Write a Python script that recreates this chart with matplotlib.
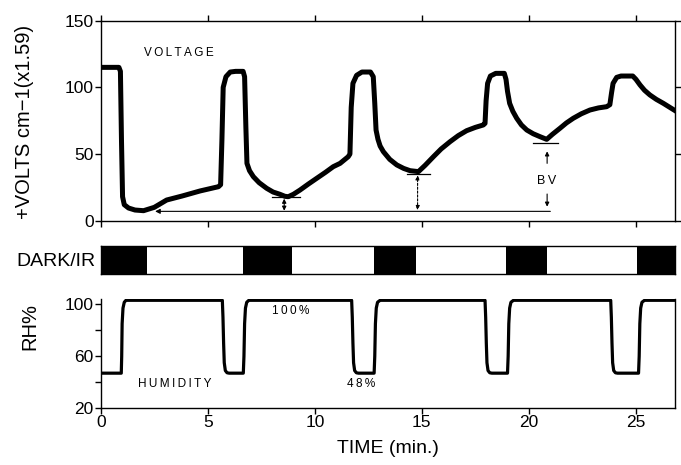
import matplotlib
matplotlib.use("Agg")
import matplotlib.pyplot as plt

plt.rcParams['font.family'] = ['Liberation Sans', 'DejaVu Sans']

# voltage trace (min, volts)
v_time = [0, 0.85, 0.92, 0.97, 1.02, 1.1, 1.3, 1.6, 2.0, 2.5, 3.08, 3.8, 4.64, 5.5,
          5.6, 5.66, 5.72, 5.85, 6.05, 6.3, 6.65, 6.72, 6.78, 6.83,
          6.95, 7.13, 7.4, 7.75, 8.05, 8.37, 8.6, 8.76,
          9.0, 9.31, 9.7, 10.09, 10.5, 10.86, 11.18, 11.56,
          11.64, 11.7, 11.78, 11.95, 12.2, 12.6, 12.73, 12.8, 12.86,
          12.95, 13.05, 13.2, 13.5, 13.83, 14.15, 14.45, 14.84,
          15.15, 15.54, 15.9, 16.32, 16.7, 17.09, 17.5, 17.87,
          17.95, 18.0, 18.07, 18.2, 18.45, 18.85, 18.93, 19.0, 19.1, 19.25, 19.43,
          19.65, 19.9, 20.2, 20.52, 20.83,
          21.1, 21.45, 21.75, 22.07, 22.45, 22.85, 23.25, 23.63,
          23.78, 23.86, 23.93, 24.1, 24.3, 24.85,
          25.0, 25.19, 25.4, 25.65, 25.95, 26.28, 26.6, 26.9]
v_vals = [115, 115, 112, 60, 18, 12, 9.5, 8, 7.5, 10, 15.5, 18.5, 22.3, 25.5,
          27, 60, 100, 108, 111.5, 112, 112, 108, 70, 43,
          37.5, 33, 28.5, 24.3, 21.5, 19.8, 18.3, 18,
          19.8, 23, 27.5, 31.8, 36.3, 40.5, 43, 48,
          50, 85, 103, 109, 111.5, 111.5, 108, 88, 68,
          61, 56, 51.8, 46, 41.8, 39.2, 37.5, 36.8,
          41.5, 48, 53.8, 59.3, 63.8, 67.5, 70, 71.8,
          73, 90, 103, 108.5, 110.5, 110.5, 106, 97, 88, 82, 76.8,
          71.8, 68, 65.2, 63, 61,
          64.8, 69.3, 73.3, 76.8, 80.2, 83, 84.6, 85.5,
          87, 96, 103, 107.5, 108.5, 108.5,
          106, 101.8, 97.8, 94.3, 91, 88, 84.8, 81.8]

# relative humidity trace (min, %)
rh_time = [0, 0.96, 0.98, 1.0, 1.04, 1.1, 1.18,
           5.68, 5.71, 5.74, 5.77, 5.82, 5.9, 6.0,
           6.66, 6.69, 6.72, 6.76, 6.82, 6.92,
           11.72, 11.75, 11.78, 11.81, 11.86, 11.94, 12.04,
           12.77, 12.8, 12.83, 12.87, 12.93, 13.05,
           17.95, 17.98, 18.01, 18.04, 18.09, 18.17, 18.27,
           19.0, 19.03, 19.06, 19.1, 19.16, 19.28,
           23.82, 23.85, 23.88, 23.91, 23.96, 24.04, 24.14,
           25.12, 25.15, 25.18, 25.22, 25.28, 25.4, 26.9]
rh_vals = [47, 47, 60, 85, 97, 101.5, 103,
           103, 90, 70, 55, 49, 47.3, 47,
           47, 60, 85, 97, 101.5, 103,
           103, 90, 70, 55, 49, 47.3, 47,
           47, 60, 85, 97, 101.5, 103,
           103, 90, 70, 55, 49, 47.3, 47,
           47, 60, 85, 97, 101.5, 103,
           103, 90, 70, 55, 49, 47.3, 47,
           47, 60, 85, 97, 101.5, 103, 103]

# dark / IR periods (start, duration)
dark_start = [0, 6.63, 12.77, 18.93, 25.06]
dark_len = [2.17, 2.32, 1.96, 1.93, 1.8]

x_max = 26.82

fig = plt.figure(figsize=(6.81, 4.65), dpi=100)

# ---- voltage panel ----
ax1 = fig.add_axes([0.1479, 0.5254, 0.8432, 0.4301])
ax1.plot(v_time, v_vals, color='black', lw=3.6, solid_joinstyle='round', solid_capstyle='butt')
ax1.set_xlim(0, x_max)
ax1.set_ylim(0, 150)
ax1.set_yticks([0, 50, 100, 150])
ax1.set_xticks([0, 5, 10, 15, 20, 25])
ax1.set_xticklabels([])
ax1.tick_params(direction='out', length=4, width=1, top=True, right=True,
                labelsize=12.5, pad=1)
for s in ax1.spines.values():
    s.set_linewidth(1)

ax1.text(2.0, 126, "V\u2009O\u2009L\u2009T\u2009A\u2009G\u2009E", fontsize=8.5, va='center')

# base line with arrow back to first minimum
ax1.annotate("", xy=(2.54, 7), xytext=(21.0, 7),
             arrowprops=dict(arrowstyle='-|>', lw=0.8, color='black',
                             mutation_scale=7, shrinkA=0, shrinkB=0))
# short marks at each minimum
for x0, x1, y in [(7.99, 9.31, 17.5), (14.29, 15.38, 35), (20.18, 21.37, 58)]:
    ax1.plot([x0, x1], [y, y], color='black', lw=0.9)

arr = dict(arrowstyle='<|-|>', lw=0.8, color='black', mutation_scale=6,
           shrinkA=0, shrinkB=0)
ax1.annotate("", xy=(8.57, 16.5), xytext=(8.57, 7.5), arrowprops=arr)
ax1.annotate("", xy=(14.8, 34), xytext=(14.8, 8), arrowprops=dict(arr, linestyle=(0, (2, 1.5))))
ax1.annotate("", xy=(20.85, 52), xytext=(20.85, 43),
             arrowprops=dict(arrowstyle='-|>', lw=0.8, color='black', mutation_scale=6,
                             shrinkA=0, shrinkB=0))
ax1.annotate("", xy=(20.85, 10.5), xytext=(20.85, 20),
             arrowprops=dict(arrowstyle='-|>', lw=0.8, color='black', mutation_scale=6,
                             shrinkA=0, shrinkB=0))
ax1.text(20.85, 29.5, "B\u2009V", fontsize=9, ha='center', va='center')

fig.text(25 / 681, 1 - 122 / 465, "+VOLTS cm\u22121(x1.59)", rotation=90,
         fontsize=14.5, ha='center', va='center')

# ---- dark / IR bar ----
ax2 = fig.add_axes([0.1479, 1 - 274.3 / 465, 0.8432, 28.6 / 465])
ax2.broken_barh(list(zip(dark_start, dark_len)), (0, 1), facecolors='black')
ax2.set_xlim(0, x_max)
ax2.set_ylim(0, 1)
ax2.set_xticks([])
ax2.set_yticks([])
for s in ax2.spines.values():
    s.set_linewidth(1)
fig.text(95 / 681, 1 - 261 / 465, "DARK/IR", fontsize=14, ha='right', va='center')

# ---- humidity panel ----
ax3 = fig.add_axes([0.1479, 1 - 408.3 / 465, 0.8432, 109.3 / 465])
ax3.plot(rh_time, rh_vals, color='black', lw=2.3, solid_joinstyle='round')
ax3.set_xlim(0, x_max)
ax3.set_ylim(20, 104)
ax3.set_yticks([20, 60, 100])
ax3.set_yticks([40, 80], minor=True)
ax3.set_xticks([0, 5, 10, 15, 20, 25])
ax3.spines['top'].set_visible(False)
for s in ['left', 'bottom', 'right']:
    ax3.spines[s].set_linewidth(1)
ax3.tick_params(direction='out', length=4, width=1, labelsize=12.5, pad=1)
ax3.tick_params(which='minor', direction='out', length=4, width=1)

ax3.text(7.99, 95, "1\u20090\u20090\u2009%", fontsize=8.5, va='center')
ax3.text(1.76, 38.5, "H\u2009U\u2009M\u2009I\u2009D\u2009I\u2009T\u2009Y", fontsize=8.5, va='center')
ax3.text(11.49, 38.5, "4\u20098\u2009%", fontsize=8.5, va='center')

fig.text(30 / 681, 1 - 326 / 465, "RH%", rotation=90, fontsize=14.5, ha='center', va='center')
fig.text(388 / 681, 1 - 448 / 465, "TIME (min.)", fontsize=14, ha='center', va='center')

fig.savefig("out.png", dpi=100)
